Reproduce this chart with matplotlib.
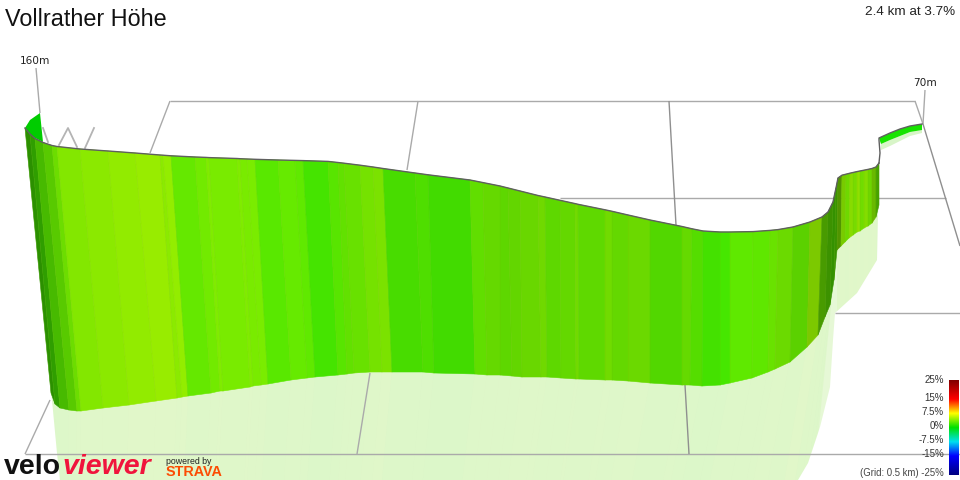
#!/usr/bin/env python3
"""VeloViewer style 3D gradient ribbon for the Vollrather Hoehe climb."""

import numpy as np
import matplotlib

matplotlib.use("Agg")
import matplotlib.pyplot as plt
from matplotlib.colors import LinearSegmentedColormap
from matplotlib.patches import Polygon

# ribbon edges
edge_top_x = [25, 30, 35, 43, 52, 57, 80, 108, 135, 160, 163, 171, 195, 206, 209, 237, 240, 247, 255, 278,
              295, 303, 328, 338, 344, 360, 373, 383, 415, 428, 470, 483, 500, 508, 520, 538, 545, 560, 575, 578,
              605, 612, 628, 650, 682, 692, 703, 720, 730, 753, 770, 778, 793, 810, 822, 828, 833, 836, 838,
              842, 846, 850, 853, 857, 860, 864, 868, 872, 876, 879]
edge_top_y = [128, 134, 138.5, 142.5, 145.5, 146.5, 149, 151, 153, 155, 155.2, 155.8, 157, 157.4, 157.6, 158.5,
              158.7, 159, 159.3, 160, 160.4, 160.6, 161.4, 162.5, 163.2, 165.2, 167, 168.5, 173, 174.8, 180,
              182.6, 186, 188, 191, 195.5, 197, 200.3, 203.6, 204.3, 209.8, 211.3, 215, 220, 226.5, 228.8, 231,
              232, 232, 231.6, 230.4, 229.6, 227, 222, 217, 212, 202, 188, 178,
              175.2, 174.2, 173.2, 172.5, 171.6, 171, 170.2, 169.4, 168.5, 167, 163]
edge_bot_x = [51, 55, 60, 69, 77, 81, 103, 129, 156, 177, 182, 188, 211, 220, 223, 250, 253, 261, 268, 291,
              307, 315, 338, 347, 354, 370, 382, 392, 423, 434, 475, 487, 500, 512, 522, 541, 547, 561, 576, 579,
              605, 612, 628, 650, 682, 690, 702, 720, 730, 752, 768, 775, 790, 807, 818, 825, 830, 834, 837,
              841, 845, 849, 853, 857, 860, 864, 868, 872, 876, 879]
edge_bot_y = [393, 404, 408, 410, 411, 411, 408, 405, 401, 398, 397, 396, 393, 391, 391, 387, 386, 385, 384, 380,
              378, 377, 375, 374, 373, 372, 372, 372, 372, 373, 374, 375, 375, 376, 377, 377, 377, 378, 379, 379,
              380, 380, 381, 383, 385, 385, 386, 385, 383, 378, 372, 369, 362, 347, 335, 317, 305, 280, 250,
              246, 242, 238, 235, 232, 231, 228, 226, 223, 217, 205]

# gradient (%) of the strip between two neighbouring edges
strip_grade = [2.0, 2.0, 2.6, 3.0, 3.4, 4.0, 4.2, 4.3, 4.6, 4.2, 4.4, 3.0, 3.5, 3.8, 3.6, 3.9, 3.7, 3.7, 2.6, 3.1,
               2.9, 2.1, 2.6, 3.0, 3.3, 3.6, 3.8, 2.3, 2.5, 2.0, 3.0, 3.2, 3.0, 3.2, 3.4, 3.7, 3.0, 3.2, 3.7, 3.0,
               3.7, 3.2, 3.5, 2.7, 3.2, 2.6, 2.0, 2.0, 2.9, 2.9, 3.2, 3.5, 3.0, 4.4, 3.2, 2.8, 2.4, 2.6,
               3.8, 4.2, 3.6, 4.4, 3.8, 4.5, 3.7, 4.2, 3.6, 4.0, 3.0]

# last short piece of the climb, seen almost edge on
end_top_x = [879, 890, 900, 910, 922]
end_top_y = [138, 133, 129, 126, 124]
end_bot_x = [881, 890, 900, 910, 922]
end_bot_y = [144, 140, 136, 132, 130]
end_shadow_y = [150, 146, 141, 136, 133]
end_grade = 0.7

back_x = [25, 30, 40, 43, 35, 28]
back_y = [128, 120, 113, 142, 138, 133]

shadow_right_x = [878, 877, 857, 835, 833, 830, 820, 808, 798]
shadow_right_y = [213, 260, 293, 313, 340, 387, 427, 463, 480]
shadow_left_x = [60, 57, 52]
shadow_left_y = [480, 453, 400]

scale_grades = [-25, -15, -7.5, 0, 7.5, 15, 25]
scale_colors = ["#000080", "#0000ff", "#00e0f0", "#00e000", "#ffff00", "#ff0000", "#800000"]
scale_y = [380, 398, 412, 426, 440, 454]
scale_labels = ["25%", "15%", "7.5%", "0%", "-7.5%", "-15%"]

GRID = "#aaaaaa"
grid_lines = [
    ((170, 915), (101, 101)),
    ((170, 150), (101, 153)),
    ((418, 407), (101, 170)),
    ((370, 357), (373, 454)),
    ((50, 25), (400, 454)),
    ((25, 960), (454, 454)),
    ((560, 946), (198, 198)),
    ((835, 960), (313, 313)),
    ((915, 923), (101, 124)),
    ((36, 40), (68, 113)),
    ((925, 923), (90, 124)),
]
dark_grid_lines = [
    ((669, 676), (101, 225)),
    ((685, 689), (385, 454)),
    ((923, 960), (124, 246)),
]
zigzag_x = [43, 48, np.nan, 59, 68, 77, np.nan, 85, 94]
zigzag_y = [128, 142, np.nan, 145, 128, 147, np.nan, 148, 128]


def strip_shade(i):
    # steep parts of the profile face away from the light, take a few edges to avoid flicker
    lo = max(i - 1, 0)
    hi = min(i + 2, len(edge_top_x) - 1)
    slope = abs((edge_top_y[hi] - edge_top_y[lo]) / (edge_top_x[hi] - edge_top_x[lo]))
    return max(0.62, 1.0 - 0.4 * slope)


def main():
    plt.rcParams["font.family"] = ["Liberation Sans", "DejaVu Sans"]
    fig = plt.figure(figsize=(9.6, 4.8), dpi=100)
    ax = fig.add_axes([0, 0, 1, 1])
    ax.set_xlim(0, 960)
    ax.set_ylim(480, 0)
    ax.axis("off")

    cmap = LinearSegmentedColormap.from_list(
        "grade", [((g + 25) / 50, c) for g, c in zip(scale_grades, scale_colors)], N=256)
    norm = plt.Normalize(-25, 25)

    # pale shadow under the ribbon, clipped to its outline
    outline_pts = (list(zip(edge_bot_x, [y - 3 for y in edge_bot_y]))
                   + list(zip(shadow_right_x, shadow_right_y))
                   + list(zip(shadow_left_x, shadow_left_y)))
    outline = Polygon(outline_pts, closed=True, fc="#e6f8d6", ec="none", zorder=1)
    ax.add_patch(outline)
    for i, grade in enumerate(strip_grade):
        sx0 = edge_bot_x[i] - 0.03 * (edge_bot_x[i] - 60)
        sx1 = edge_bot_x[i + 1] - 0.03 * (edge_bot_x[i + 1] - 60)
        if edge_bot_x[i] >= 837:
            sx0, sx1 = edge_bot_x[i], edge_bot_x[i + 1]
        poly = Polygon([(edge_bot_x[i], edge_bot_y[i] - 3), (edge_bot_x[i + 1], edge_bot_y[i + 1] - 3),
                        (sx1, 480), (sx0, 480)],
                       closed=True, fc=cmap(norm(grade)), ec="none", alpha=0.06, zorder=1.5)
        ax.add_patch(poly)
        poly.set_clip_path(outline)
    ax.fill(end_bot_x + end_bot_x[::-1], end_bot_y + end_shadow_y[::-1], color="#d8f5c8", lw=0, zorder=1)

    for xs, ys in grid_lines:
        ax.plot(xs, ys, color=GRID, lw=1.0, zorder=2, solid_capstyle="butt")
    for xs, ys in dark_grid_lines:
        ax.plot(xs, ys, color="#8f8f8f", lw=1.0, zorder=2, solid_capstyle="butt")
    ax.plot(zigzag_x, zigzag_y, color="#b4b4b4", lw=1.3, zorder=2)

    ax.fill(back_x, back_y, color="#00cc00", lw=0, zorder=3)

    # ribbon strips
    for i, grade in enumerate(strip_grade):
        shade = strip_shade(i)
        r, g, b, _ = cmap(norm(grade))
        col = (r * shade, g * shade, b * shade)
        ax.fill([edge_top_x[i], edge_top_x[i + 1], edge_bot_x[i + 1], edge_bot_x[i]],
                [edge_top_y[i], edge_top_y[i + 1], edge_bot_y[i + 1], edge_bot_y[i]],
                fc=col, ec=col, lw=0.4, zorder=4)
        ax.plot([edge_top_x[i], edge_bot_x[i]], [edge_top_y[i], edge_bot_y[i]],
                color=(0.45, 0.72, 0.0), lw=0.5, alpha=0.18, zorder=5)
    ax.fill(end_top_x + end_bot_x[::-1], end_top_y + end_bot_y[::-1],
            color=cmap(norm(end_grade)), lw=0, zorder=4)

    # dark line along the road
    ax.plot(edge_top_x, edge_top_y, color="#5f5f5f", lw=1.0, zorder=6)
    ax.plot([879, 880, 879] + end_top_x, [163, 153, 140] + end_top_y, color="#5f5f5f", lw=1.0, zorder=6)

    # grade scale
    ax.imshow(np.linspace(25, -25, 256).reshape(-1, 1), cmap=cmap, norm=norm,
              extent=(949, 959, 475, 380), aspect="auto", zorder=7)
    ax.set_xlim(0, 960)
    ax.set_ylim(480, 0)
    for y, lab in zip(scale_y, scale_labels):
        ax.text(944, y, lab, ha="right", va="center", fontsize=7, color="#333333", zorder=8)
    ax.text(944, 473, "(Grid: 0.5 km) -25%", ha="right", va="center", fontsize=6.9, color="#444444", zorder=8)

    ax.text(5, 19, "Vollrather Höhe", ha="left", va="center", fontsize=16.8, color="#111111", zorder=8)
    ax.text(955, 12, "2.4 km at 3.7%", ha="right", va="center", fontsize=9.7, color="#222222", zorder=8)
    ax.text(35, 61, "160m", ha="center", va="center", fontsize=7.6, color="#222222",
            family="DejaVu Sans", zorder=8)
    ax.text(925, 83, "70m", ha="center", va="center", fontsize=7.6, color="#222222",
            family="DejaVu Sans", zorder=8)

    # logos
    ax.text(4, 473.5, "velo", ha="left", va="baseline", fontsize=20.5, fontweight="bold", color="#111111", zorder=8)
    ax.text(62, 473.5, "viewer", ha="left", va="baseline", fontsize=20.5, fontweight="bold", style="italic",
            color="#f0143c", zorder=8)
    ax.text(166, 462, "powered by", ha="left", va="center", fontsize=6.3, color="#222222", zorder=8)
    ax.text(166, 472, "STRAVA", ha="left", va="center", fontsize=10.4, fontweight="bold", color="#fc4c02", zorder=8)

    fig.savefig("out.png", dpi=100)
    plt.close(fig)


if __name__ == "__main__":
    main()
